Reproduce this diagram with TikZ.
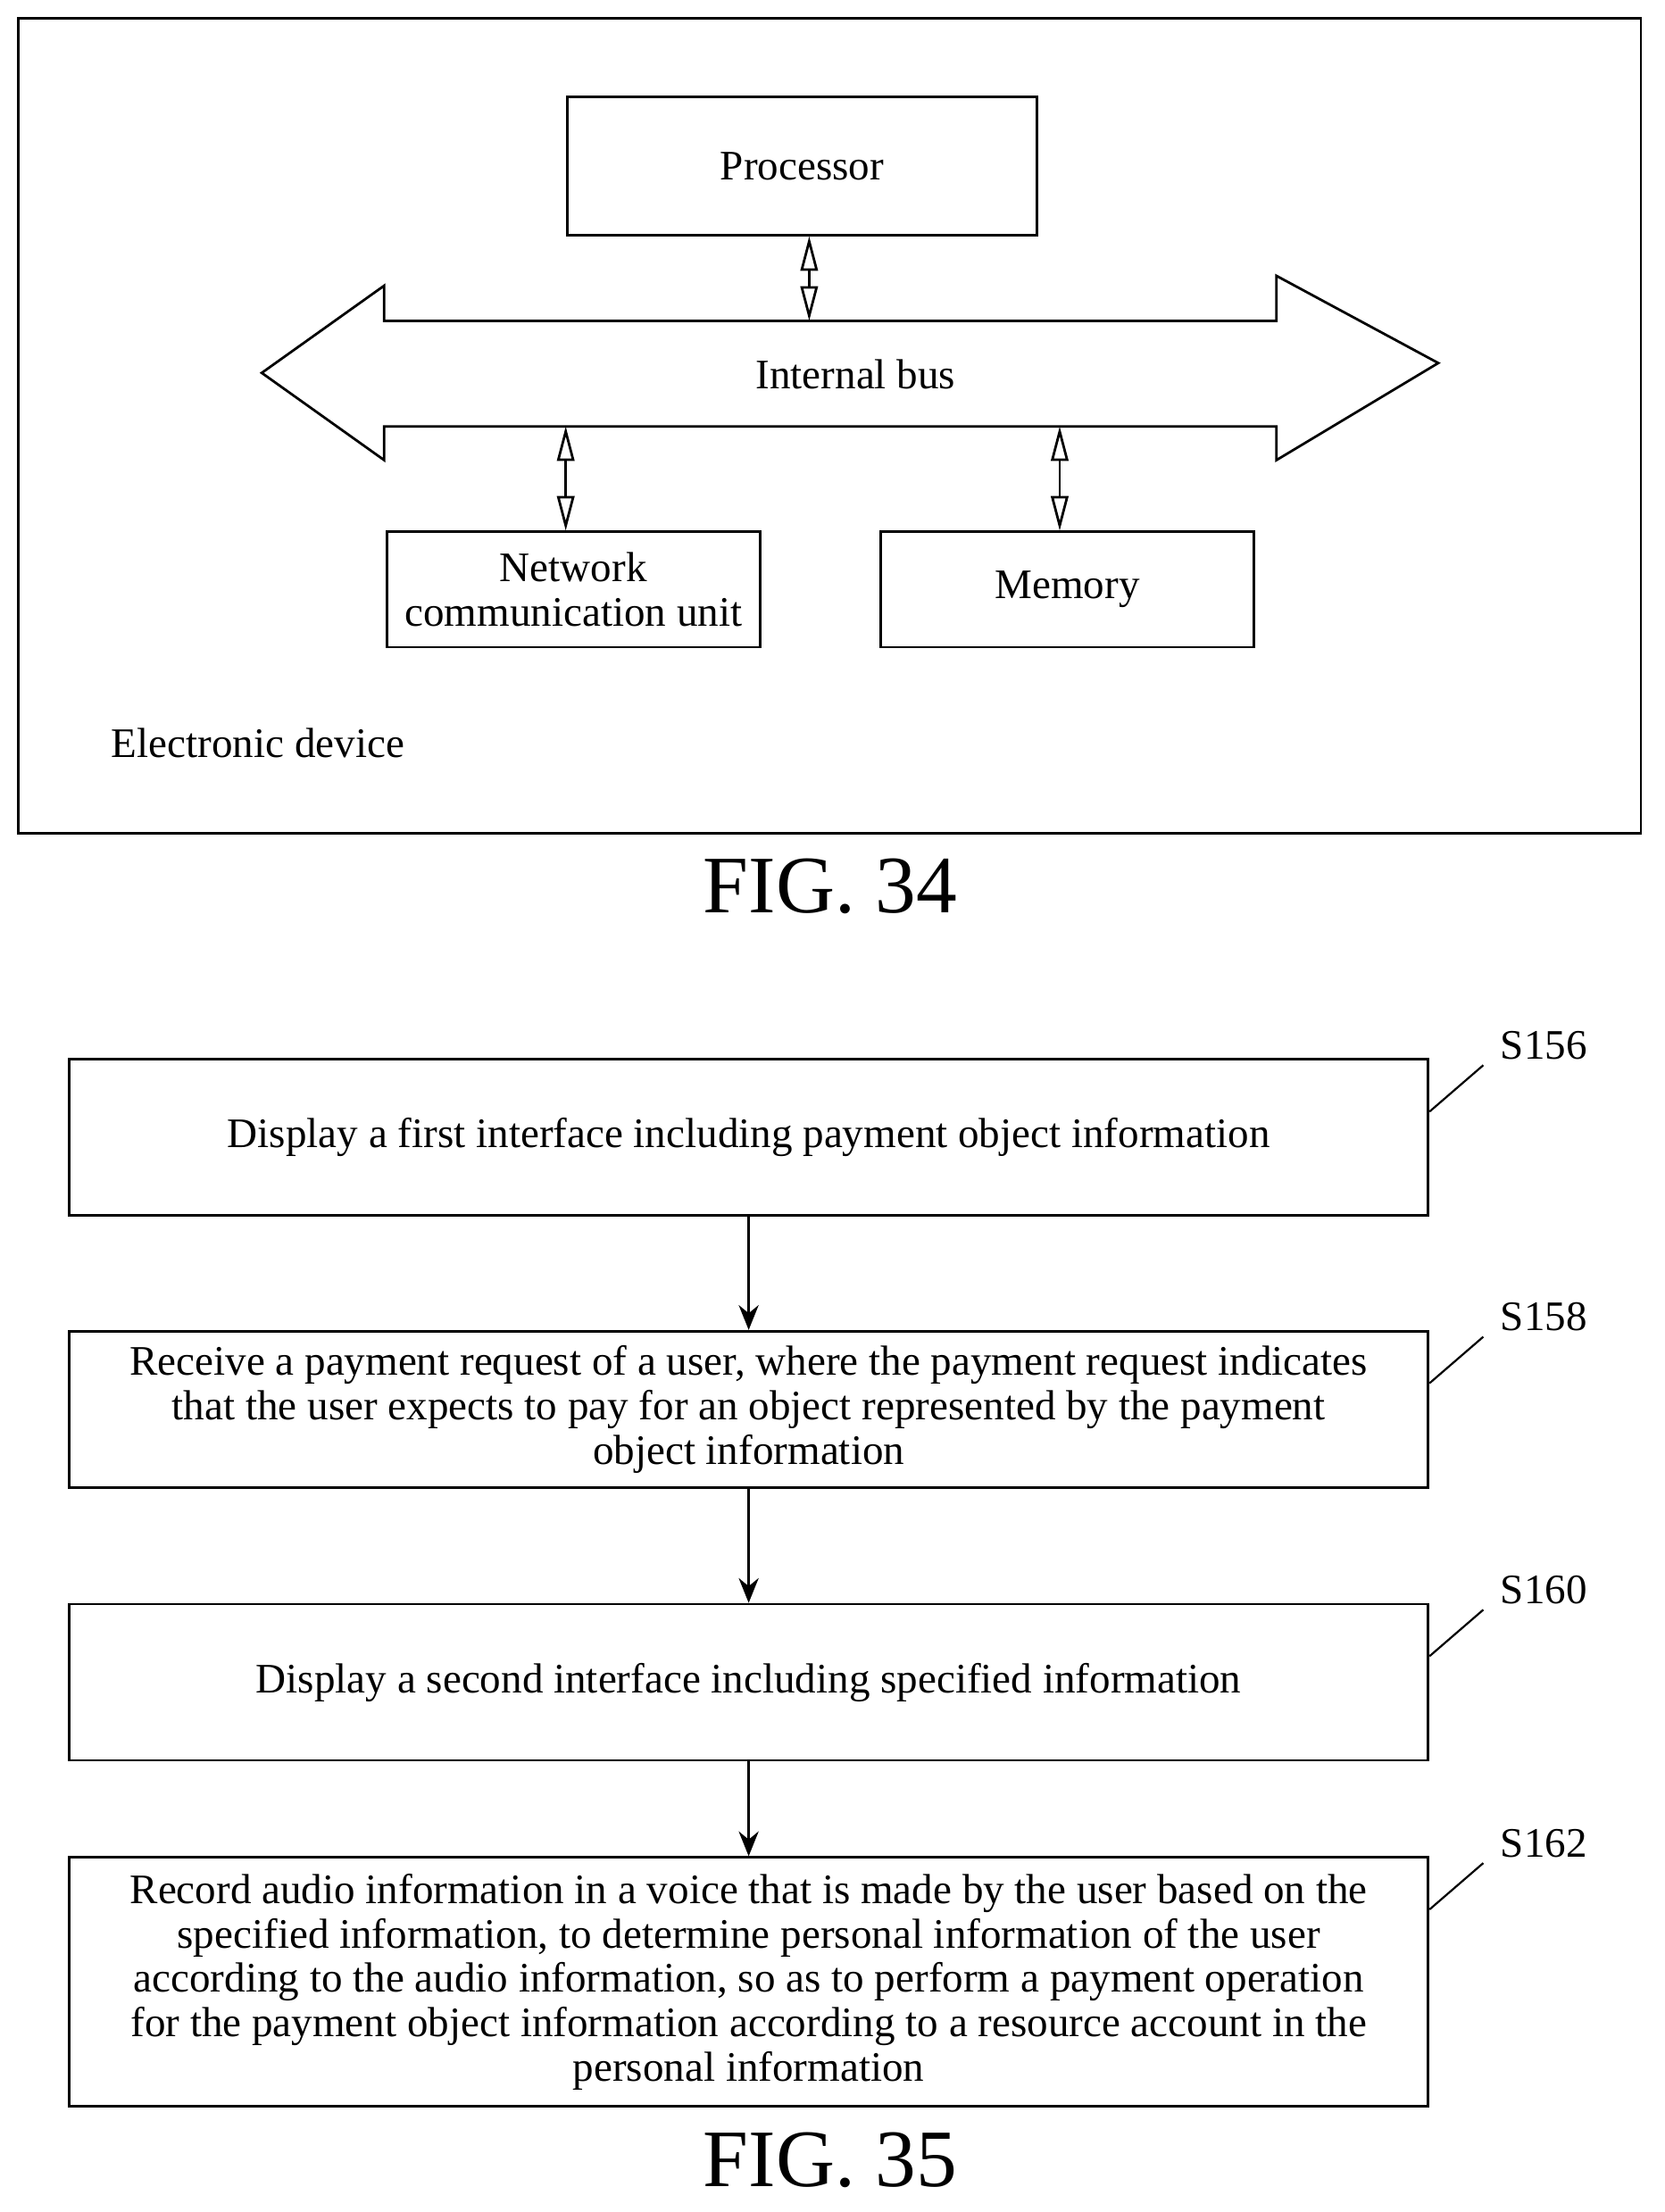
\documentclass[tikz,border=0pt]{standalone}
\usepackage{fontspec}
\setmainfont{Liberation Serif}
\usetikzlibrary{arrows.meta, positioning}
\tikzset{
  box/.style={draw, line width=1pt, align=center, inner sep=2pt, font=\fontsize{17}{18}\selectfont},
  stepbox/.style={box, minimum width=19.32cm},
  dual/.style={{Triangle[open, width=7pt, length=14pt]}-{Triangle[open, width=7pt, length=14pt]}, line width=1pt},
  flow/.style={-{Stealth[length=10pt, width=8pt]}, line width=1.2pt},
  lbl/.style={font=\fontsize{17}{18}\selectfont},
  fig/.style={font=\fontsize{33}{36}\selectfont}
}
\begin{document}
\begin{tikzpicture}[x=0.02cm, y=-0.02cm]
\useasboundingbox (0,0) rectangle (1183,1572);
% FIG. 34
\draw[line width=1pt] (13,13) rectangle (1166,592);
\node[box, minimum width=6.68cm, minimum height=1.96cm] (proc) at (570,118) {Processor};
\draw[line width=1pt] (186,265) -- (273,203) -- (273,228) -- (907,228) -- (907,196)
  -- (1022,258) -- (907,327) -- (907,303) -- (273,303) -- (273,327) -- cycle;
\node[lbl] (bus) at (608,266) {Internal bus};
\coordinate (busA) at (575,228);
\coordinate (busB) at (402,303);
\coordinate (busC) at (753,303);
\node[box, minimum width=5.3cm, minimum height=1.64cm] (net) at (407.5,419) {Network\\communication unit};
\node[box, minimum width=5.3cm, minimum height=1.64cm] (mem) at (758.5,419) {Memory};
\draw[dual] (proc.south -| busA) -- (busA);
\draw[dual] (busB) -- (busB |- net.north);
\draw[dual] (busC) -- (busC |- mem.north);
\node[lbl, anchor=west] (dev) at (73,528) {Electronic device};
\node[fig] (fig34) at (590,630) {FIG. 34};

% FIG. 35
\node[stepbox, minimum height=2.22cm] (s156) at (532,808) {Display a first interface including payment object information};
\node[stepbox, minimum height=2.22cm] (s158) at (532,1001.5) {Receive a payment request of a user, where the payment request indicates\\that the user expects to pay for an object represented by the payment\\object information};
\node[stepbox, minimum height=2.22cm] (s160) at (532,1195.5) {Display a second interface including specified information};
\node[stepbox, minimum height=3.54cm] (s162) at (532,1408.5) {Record audio information in a voice that is made by the user based on the\\specified information, to determine personal information of the user\\according to the audio information, so as to perform a payment operation\\for the payment object information according to a resource account in the\\personal information};
\foreach \s/\y in {156/753, 158/946, 160/1140, 162/1320} {
  \node[lbl] (t\s) at (1097,\y-10) {S\s};
  \draw[line width=0.8pt] (s\s.east |- 0,\y+37) -- (1054,\y+4);
}
\draw[flow] (s156) -- (s158);
\draw[flow] (s158) -- (s160);
\draw[flow] (s160) -- (s162);
\node[fig] (fig35) at (590,1535) {FIG. 35};
\end{tikzpicture}
\end{document}
